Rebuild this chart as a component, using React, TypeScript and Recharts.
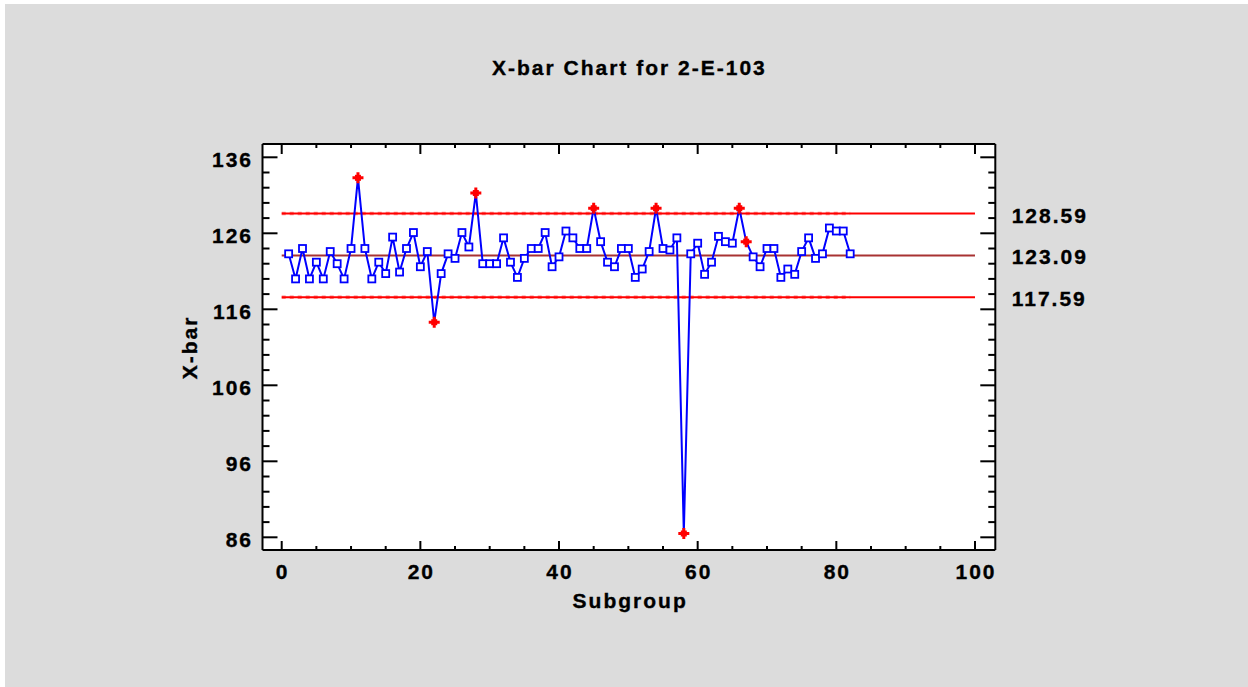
import {
  LineChart,
  Line,
  XAxis,
  YAxis,
  ReferenceLine,
  CartesianGrid,
} from "recharts";

// subgroup means (subgroups 1..82)
const xbarValues = [
  123.3, 120.0, 124.0, 120.0, 122.2, 120.0, 123.6, 122.0, 120.0, 124.0,
  133.3, 124.0, 120.0, 122.2, 120.7, 125.5, 120.9, 124.0, 126.1, 121.6,
  123.6, 114.3, 120.7, 123.3, 122.7, 126.1, 124.2, 131.3, 122.0, 122.0,
  122.0, 125.4, 122.2, 120.2, 122.7, 124.0, 124.0, 126.1, 121.6, 122.9,
  126.3, 125.4, 124.0, 124.0, 129.3, 124.9, 122.2, 121.6, 124.0, 124.0,
  120.2, 121.3, 123.6, 129.3, 124.0, 123.8, 125.4, 86.5, 123.3, 124.7,
  120.6, 122.2, 125.6, 124.9, 124.7, 129.3, 124.9, 122.9, 121.6, 124.0,
  124.0, 120.2, 121.3, 120.6, 123.6, 125.4, 122.7, 123.3, 126.7, 126.3,
  126.3, 123.3,
];

// subgroups flagged out of control (red markers)
const flaggedSubgroups = [11, 22, 28, 45, 54, 58, 66, 67];

const UCL = 128.59;
const CL = 123.09;
const LCL = 117.59;
const controlLabels = [LCL, CL, UCL];

const xTicks = [0, 5, 10, 15, 20, 25, 30, 35, 40, 45, 50, 55, 60, 65, 70, 75, 80, 85, 90, 95, 100];
const yTicks = [
  86, 88, 90, 92, 94, 96, 98, 100, 102, 104, 106, 108, 110, 112, 114, 116,
  118, 120, 122, 124, 126, 128, 130, 132, 134, 136,
];

const chartData = xbarValues.map((v, i) => ({ subgroup: i + 1, xbar: v }));
const lastSubgroup = xbarValues.length;

const FONT = "'Liberation Sans', Arial, sans-serif";
const labelStyle = {
  fontFamily: FONT,
  fontWeight: 700,
  fontSize: 21,
  letterSpacing: "2px",
  fill: "#000",
  stroke: "#000",
  strokeWidth: 0.35,
};

const htmlText = {
  position: "absolute" as const,
  fontSize: 21,
  lineHeight: "21px",
  letterSpacing: "2px",
  textAlign: "center" as const,
  WebkitTextStroke: "0.35px #000",
};

const isMajorX = (v: number) => v % 20 === 0;
const isMajorY = (v: number) => (v - 86) % 10 === 0;

const BottomTick = ({ x, y, payload }: any) => (
  <g>
    <line x1={x} y1={y} x2={x} y2={y - (isMajorX(payload.value) ? 9 : 4)} stroke="#000" strokeWidth={2} />
    {isMajorX(payload.value) && (
      <text x={x + 1} y={y + 29} textAnchor="middle" style={labelStyle}>
        {payload.value}
      </text>
    )}
  </g>
);

const TopTick = ({ x, y, payload }: any) => (
  <line x1={x} y1={y} x2={x} y2={y + (isMajorX(payload.value) ? 10 : 4)} stroke="#000" strokeWidth={2} />
);

const LeftTick = ({ x, y, payload }: any) => (
  <g>
    <line x1={x} y1={y} x2={x + (isMajorY(payload.value) ? 15 : 7)} y2={y} stroke="#000" strokeWidth={2} />
    {isMajorY(payload.value) && (
      <text x={x - 9.5} y={y + 9.5} textAnchor="end" style={labelStyle}>
        {payload.value}
      </text>
    )}
  </g>
);

const RightTick = ({ x, y, payload }: any) => {
  if (controlLabels.includes(payload.value)) {
    return (
      <text x={x + 16.4} y={y + 9} textAnchor="start" style={labelStyle}>
        {payload.value.toFixed(2)}
      </text>
    );
  }
  return (
    <line x1={x} y1={y} x2={x - (isMajorY(payload.value) ? 15 : 7)} y2={y} stroke="#000" strokeWidth={2} />
  );
};

const renderDot = (props: any) => {
  const { cx, cy, payload, index } = props;
  if (flaggedSubgroups.includes(payload.subgroup)) {
    return (
      <g key={`d${index}`}>
        <line x1={cx - 5.5} y1={cy} x2={cx + 5.5} y2={cy} stroke="#ff0000" strokeWidth={3} />
        <line x1={cx} y1={cy - 5.5} x2={cx} y2={cy + 5.5} stroke="#ff0000" strokeWidth={3} />
        <rect x={cx - 3} y={cy - 3} width={6} height={6} fill="#ff0000" />
      </g>
    );
  }
  return (
    <rect
      key={`d${index}`}
      x={cx - 3.5}
      y={cy - 3.5}
      width={7}
      height={7}
      fill="#fff"
      stroke="#0000ff"
      strokeWidth={1.8}
    />
  );
};

const xDomain = [-2.77, 102.93];
const yDomain = [84.33, 137.75];

export default function App() {
  return (
    <div style={{ position: "relative", width: 1248, height: 687, background: "#fff" }}>
      <style>{"body{margin:0}"}</style>
      <div
        style={{
          position: "absolute",
          left: 5,
          top: 4,
          width: 1243,
          height: 683,
          background: "#dcdcdc",
          fontFamily: FONT,
          fontWeight: 700,
          color: "#000",
        }}
      >
        <div style={{ ...htmlText, left: 324.4, top: 53.2, width: 600 }}>X-bar Chart for 2-E-103</div>
        <div style={{ ...htmlText, left: 325.2, top: 586.2, width: 600 }}>Subgroup</div>
        <div
          style={{
            ...htmlText,
            left: 134,
            top: 333,
            width: 100,
            height: 21,
            transform: "rotate(-90deg)",
          }}
        >
          X-bar
        </div>
        <LineChart
          width={1243}
          height={683}
          data={chartData}
          margin={{ top: 130, right: 242.7, bottom: 107, left: 197.5 }}
          style={{ position: "absolute", left: 0, top: 0 }}
        >
          <CartesianGrid fill="#fff" horizontal={false} vertical={false} xAxisId="bottom" yAxisId="left" />
          <XAxis
            xAxisId="bottom"
            dataKey="subgroup"
            type="number"
            domain={xDomain}
            allowDataOverflow
            ticks={xTicks}
            interval={0}
            height={30}
            tickSize={0}
            tickMargin={0}
            tickLine={false}
            axisLine={{ stroke: "#000", strokeWidth: 2 }}
            tick={BottomTick}
          />
          <XAxis
            xAxisId="top"
            orientation="top"
            dataKey="subgroup"
            type="number"
            domain={xDomain}
            allowDataOverflow
            ticks={xTicks}
            interval={0}
            height={10}
            tickSize={0}
            tickMargin={0}
            tickLine={false}
            axisLine={{ stroke: "#000", strokeWidth: 2 }}
            tick={TopTick}
          />
          <YAxis
            yAxisId="left"
            type="number"
            domain={yDomain}
            allowDataOverflow
            ticks={yTicks}
            interval={0}
            width={60}
            tickSize={0}
            tickMargin={0}
            tickLine={false}
            axisLine={{ stroke: "#000", strokeWidth: 2 }}
            tick={LeftTick}
          />
          <YAxis
            yAxisId="right"
            orientation="right"
            type="number"
            domain={yDomain}
            allowDataOverflow
            ticks={[...yTicks, ...controlLabels].sort((a, b) => a - b)}
            interval={0}
            width={10}
            tickSize={0}
            tickMargin={0}
            tickLine={false}
            axisLine={{ stroke: "#000", strokeWidth: 2 }}
            tick={RightTick}
          />
          {/* dotted texture along the limits over the span of the data */}
          <ReferenceLine
            xAxisId="bottom"
            yAxisId="left"
            segment={[{ x: 0, y: UCL }, { x: lastSubgroup, y: UCL }]}
            stroke="#ff8a8a"
            strokeWidth={3.5}
            strokeDasharray="4 4"
          />
          <ReferenceLine
            xAxisId="bottom"
            yAxisId="left"
            segment={[{ x: 0, y: LCL }, { x: lastSubgroup, y: LCL }]}
            stroke="#ff8a8a"
            strokeWidth={3.5}
            strokeDasharray="4 4"
          />
          <ReferenceLine
            xAxisId="bottom"
            yAxisId="left"
            segment={[{ x: 0, y: UCL }, { x: 100, y: UCL }]}
            stroke="#ff0000"
            strokeWidth={2}
          />
          <ReferenceLine
            xAxisId="bottom"
            yAxisId="left"
            segment={[{ x: 0, y: CL }, { x: 100, y: CL }]}
            stroke="#a83232"
            strokeWidth={2}
          />
          <ReferenceLine
            xAxisId="bottom"
            yAxisId="left"
            segment={[{ x: 0, y: LCL }, { x: 100, y: LCL }]}
            stroke="#ff0000"
            strokeWidth={2}
          />
          <Line
            xAxisId="top"
            yAxisId="right"
            dataKey="xbar"
            stroke="none"
            dot={false}
            activeDot={false}
            isAnimationActive={false}
          />
          <Line
            xAxisId="bottom"
            yAxisId="left"
            dataKey="xbar"
            stroke="#0000ff"
            strokeWidth={2}
            dot={renderDot}
            activeDot={false}
            isAnimationActive={false}
          />
        </LineChart>
      </div>
    </div>
  );
}
